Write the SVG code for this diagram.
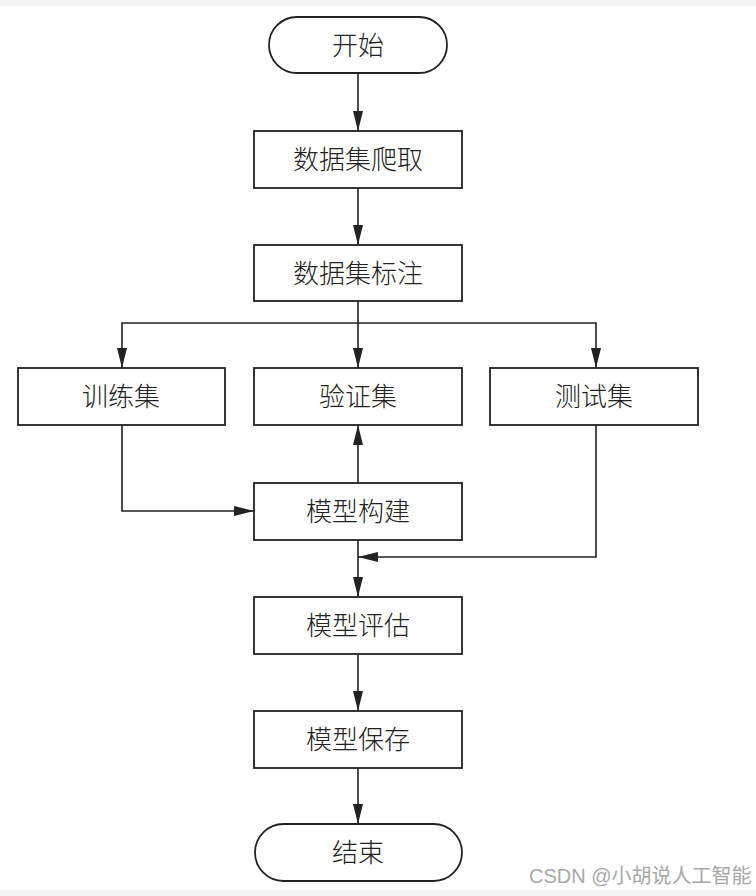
<svg xmlns="http://www.w3.org/2000/svg" width="756" height="896" viewBox="0 0 756 896">
<style>
.box{fill:#fff;stroke:#222;stroke-width:1.8}
.t{font-family:"Noto Sans CJK SC","Noto Sans",sans-serif;font-size:26px;font-weight:300;fill:#222;text-anchor:middle;dominant-baseline:central}
.ln{fill:none;stroke:#222;stroke-width:1.6}
.wm{font-family:"Liberation Sans","Noto Sans CJK SC",sans-serif;font-size:20px;fill:#a8a8a8}
</style>
<defs>
<marker id="ah" viewBox="0 0 20 10" refX="20" refY="5" markerWidth="20" markerHeight="10" markerUnits="userSpaceOnUse" orient="auto">
<path d="M0,0 L20,5 L0,10 Z" fill="#222"/>
</marker>
</defs>
<rect x="0" y="0" width="756" height="896" fill="#fff"/>
<rect x="0" y="0" width="756" height="6" fill="#f3f3f3"/>
<rect x="0" y="890" width="756" height="6" fill="#f3f3f3"/>
<g id="connectors">
<line class="ln" x1="358" y1="73" x2="358" y2="131" marker-end="url(#ah)"/>
<line class="ln" x1="358" y1="188" x2="358" y2="245" marker-end="url(#ah)"/>
<line class="ln" x1="358" y1="301" x2="358" y2="368" marker-end="url(#ah)"/>
<polyline class="ln" points="358,323 122,323 122,368" marker-end="url(#ah)"/>
<polyline class="ln" points="358,323 596,323 596,368" marker-end="url(#ah)"/>
<polyline class="ln" points="122,425 122,511 254,511" marker-end="url(#ah)"/>
<line class="ln" x1="358" y1="483" x2="358" y2="425" marker-end="url(#ah)"/>
<polyline class="ln" points="596,425 596,557 358,557" marker-end="url(#ah)"/>
<line class="ln" x1="358" y1="540" x2="358" y2="597" marker-end="url(#ah)"/>
<line class="ln" x1="358" y1="654" x2="358" y2="711" marker-end="url(#ah)"/>
<line class="ln" x1="358" y1="768" x2="358" y2="824" marker-end="url(#ah)"/>
</g>
<g id="start"><rect class="box" x="269" y="17" width="178" height="56" rx="28"/><text class="t" x="358" y="43">开始</text></g>
<g id="crawl"><rect class="box" x="254" y="131" width="208" height="57"/><text class="t" x="358" y="157">数据集爬取</text></g>
<g id="label"><rect class="box" x="254" y="245" width="208" height="56"/><text class="t" x="358" y="271">数据集标注</text></g>
<g id="train"><rect class="box" x="18" y="368" width="207" height="57"/><text class="t" x="121" y="394">训练集</text></g>
<g id="val"><rect class="box" x="254" y="368" width="208" height="57"/><text class="t" x="358" y="394">验证集</text></g>
<g id="test"><rect class="box" x="490" y="368" width="208" height="57"/><text class="t" x="594" y="394">测试集</text></g>
<g id="build"><rect class="box" x="254" y="483" width="208" height="57"/><text class="t" x="358" y="509">模型构建</text></g>
<g id="eval"><rect class="box" x="254" y="597" width="208" height="57"/><text class="t" x="358" y="623">模型评估</text></g>
<g id="save"><rect class="box" x="254" y="711" width="208" height="57"/><text class="t" x="358" y="737">模型保存</text></g>
<g id="end"><rect class="box" x="255" y="824" width="207" height="57" rx="28.5"/><text class="t" x="358" y="850">结束</text></g>
<text class="wm" x="529" y="883">CSDN @小胡说人工智能</text>
</svg>
